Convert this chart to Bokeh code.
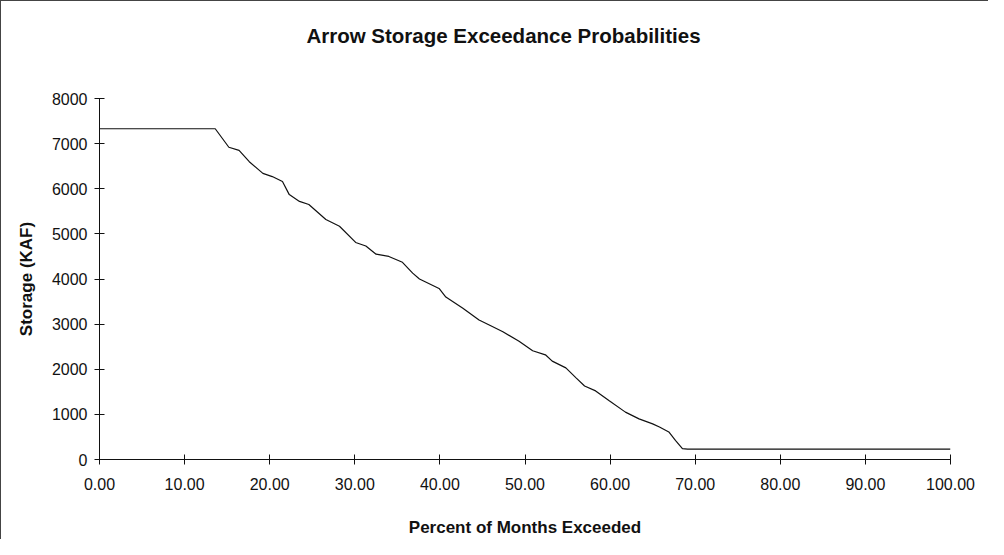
from bokeh.plotting import figure
from bokeh.layouts import column
from bokeh.models import SingleIntervalTicker, NumeralTickFormatter, Range1d, Div
from bokeh.embed import file_html
from bokeh.resources import INLINE

# Data
percent_exceeded = [0, 13.6, 15.2, 16.4, 17.6, 19.2, 20.3, 21.5, 22.3, 23.5, 24.6,
                    26.6, 28.2, 30.1, 31.3, 32.5, 34.0, 35.6, 36.8, 37.6, 39.9,
                    40.7, 42.7, 44.6, 45.8, 47.4, 49.3, 50.9, 52.4, 53.2, 54.8,
                    56.0, 57.0, 58.3, 59.9, 61.8, 63.4, 65.0, 65.8, 66.9, 67.7,
                    68.5, 69.1, 100]
storage_kaf = [7330, 7330, 6920, 6850, 6600, 6340, 6270, 6160, 5870, 5720, 5650,
               5320, 5170, 4810, 4730, 4550, 4500, 4370, 4130, 4000, 3790,
               3600, 3350, 3090, 2980, 2830, 2620, 2410, 2320, 2180, 2030,
               1810, 1630, 1520, 1300, 1050, 900, 790, 720, 610, 420,
               240, 230, 230]
title_text = "Arrow Storage Exceedance Probabilities"

FONT = "Liberation Sans"
INK = "#111111"

title_div = Div(
    text=f'<span style="position:relative;left:9px">{title_text}</span>',
    width=987, height=70, margin=0,
    styles={"font-family": FONT, "font-size": "20.5px", "font-weight": "bold",
            "color": INK, "text-align": "center", "line-height": "70px",
            "white-space": "nowrap"})

p = figure(width=987, height=468, output_backend="svg", toolbar_location=None,
           x_range=Range1d(0, 100), y_range=Range1d(0, 8000),
           min_border_left=98, min_border_right=38, min_border_top=27,
           min_border_bottom=76, margin=0)

p.line(percent_exceeded, storage_kaf, line_color=INK, line_width=1.2)

p.outline_line_color = None
p.xgrid.grid_line_color = None
p.ygrid.grid_line_color = None

p.xaxis.ticker = SingleIntervalTicker(interval=10)
p.xaxis.formatter = NumeralTickFormatter(format="0.00")
p.yaxis.ticker = SingleIntervalTicker(interval=1000)
p.xaxis.minor_tick_line_color = None
p.yaxis.minor_tick_line_color = None

for ax in (p.xaxis[0], p.yaxis[0]):
    ax.axis_line_color = INK
    ax.major_tick_line_color = INK
    ax.major_tick_in = 5
    ax.major_tick_out = 5
    ax.major_label_text_font = FONT
    ax.major_label_text_font_size = "16px"
    ax.major_label_text_color = INK
    ax.axis_label_text_font = FONT
    ax.axis_label_text_font_size = "17px"
    ax.axis_label_text_font_style = "bold"
    ax.axis_label_text_color = INK

p.xaxis.axis_label = "Percent of Months Exceeded"
p.yaxis.axis_label = "Storage (KAF)"
p.xaxis.major_label_standoff = 13
p.xaxis.axis_label_standoff = 25
p.yaxis.major_label_standoff = 7
p.yaxis.axis_label_standoff = 13

layout = column(title_div, p, spacing=0, margin=0,
                styles={"border-top": "1px solid #444", "border-left": "1px solid #444"})

open("out.html", "w").write(file_html(layout, INLINE))
